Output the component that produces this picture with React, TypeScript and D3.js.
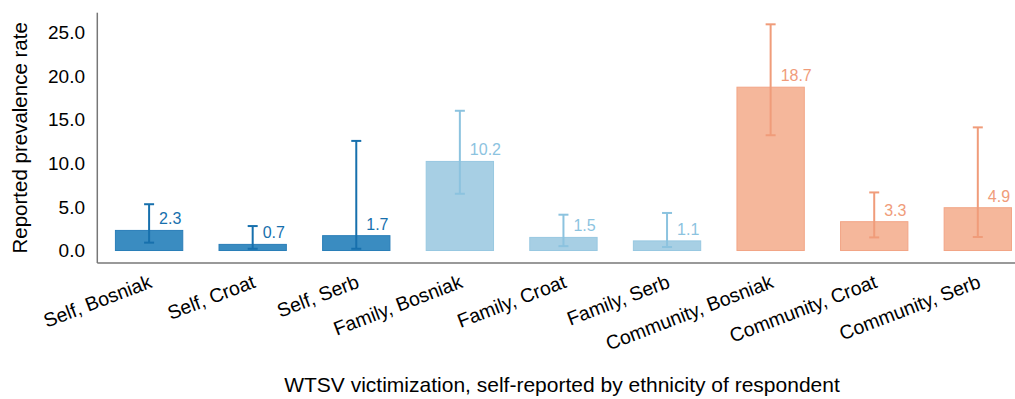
import React from "react";
import * as d3 from "d3";

// Reported prevalence of wartime sexual violence by group and respondent ethnicity
const categories = [
  "Self, Bosniak",
  "Self, Croat",
  "Self, Serb",
  "Family, Bosniak",
  "Family, Croat",
  "Family, Serb",
  "Community, Bosniak",
  "Community, Croat",
  "Community, Serb",
];
const groups = ["Self", "Self", "Self", "Family", "Family", "Family", "Community", "Community", "Community"];
const rates = [2.3, 0.7, 1.7, 10.2, 1.5, 1.1, 18.7, 3.3, 4.9];
const lower = [0.9, 0.2, 0.2, 6.5, 0.5, 0.4, 13.2, 1.5, 1.55];
const upper = [5.3, 2.8, 12.55, 16.0, 4.1, 4.3, 25.9, 6.65, 14.1];
const yTicks = [0, 5, 10, 15, 20, 25];

const palette: Record<string, { fill: string; stroke: string; err: string }> = {
  Self: { fill: "#3a8cc1", stroke: "#2a7eb8", err: "#1770ad" },
  Family: { fill: "#a7cfe4", stroke: "#98c8e1", err: "#8cc3df" },
  Community: { fill: "#f5b79b", stroke: "#f2a586", err: "#f09c7a" },
};

const W = 1015;
const H = 399;
const left = 97.3;
const right = 1029.6;
const top = 12.7;
const bottom = 263;
const font = "'Liberation Sans', Arial, Helvetica, sans-serif";

export default function App() {
  const x = d3
    .scaleBand<string>()
    .domain(categories)
    .range([left, right])
    .paddingInner(0.35)
    .paddingOuter(0.175);
  const y = d3.scaleLinear().domain([-1.43, 27.23]).range([bottom, top]);
  const bw = x.bandwidth();

  return (
    <svg
      width={W}
      height={H}
      style={{ position: "absolute", left: 0, top: 0, fontFamily: font }}
    >
      <rect width={W} height={H} fill="#fff" />
      {/* bars */}
      {categories.map((c, i) => {
        const col = palette[groups[i]];
        return (
          <rect
            key={"b" + c}
            x={x(c)!}
            y={y(rates[i])}
            width={bw}
            height={y(0) - y(rates[i])}
            fill={col.fill}
            stroke={col.stroke}
            strokeWidth={1}
          />
        );
      })}
      {/* error bars */}
      {categories.map((c, i) => {
        const col = palette[groups[i]];
        const cx = x(c)! + bw / 2;
        return (
          <g key={"e" + c} stroke={col.err} strokeWidth={2} fill="none">
            <line x1={cx} x2={cx} y1={y(upper[i])} y2={y(lower[i])} />
            <line x1={cx - 5} x2={cx + 5} y1={y(upper[i])} y2={y(upper[i])} />
            <line x1={cx - 5} x2={cx + 5} y1={y(lower[i])} y2={y(lower[i])} />
          </g>
        );
      })}
      {/* value labels */}
      {categories.map((c, i) => {
        const col = palette[groups[i]];
        const cx = x(c)! + bw / 2;
        return (
          <text
            key={"v" + c}
            x={cx + 10}
            y={y(rates[i]) - 6}
            fontSize={16}
            fill={col.err}
          >
            {rates[i].toFixed(1)}
          </text>
        );
      })}
      {/* axes */}
      <line x1={left} x2={W} y1={bottom} y2={bottom} stroke="#777" strokeWidth={1.5} />
      <line x1={left} x2={left} y1={top} y2={bottom} stroke="#777" strokeWidth={1.5} />
      {yTicks.map((t) => (
        <text
          key={"t" + t}
          x={85}
          y={y(t)}
          dy="0.36em"
          textAnchor="end"
          fontSize={19}
          fill="#000"
        >
          {t.toFixed(1)}
        </text>
      ))}
      {categories.map((c) => {
        const cx = x(c)! + bw / 2;
        return (
          <text
            key={"x" + c}
            transform={`translate(${cx + 4},${bottom + 24}) rotate(-21)`}
            textAnchor="end"
            fontSize={19.5}
            fill="#000"
          >
            {c}
          </text>
        );
      })}
      <text
        transform={`translate(27,${(top + bottom) / 2}) rotate(-90)`}
        textAnchor="middle"
        fontSize={20.5}
        fill="#000"
      >
        Reported prevalence rate
      </text>
      <text x={562} y={392} textAnchor="middle" fontSize={21} fill="#000">
        WTSV victimization, self-reported by ethnicity of respondent
      </text>
    </svg>
  );
}
